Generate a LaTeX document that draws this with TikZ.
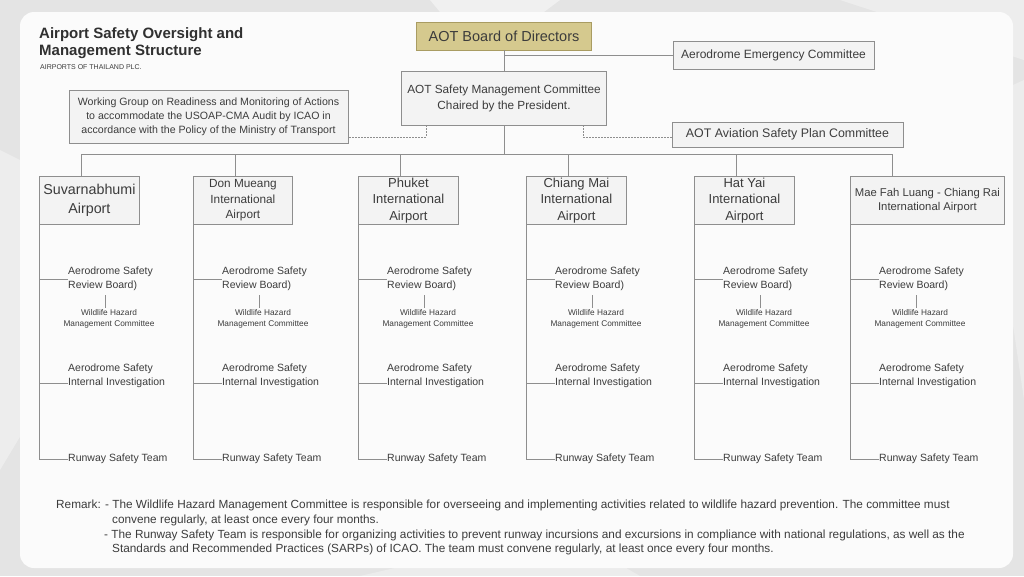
\documentclass[tikz,border=0pt]{standalone}
\usepackage{fontspec}
\setmainfont{Liberation Sans}
\newfontfamily\remfont{Liberation Sans}
\usetikzlibrary{positioning,calc}
\definecolor{cInk}{HTML}{3C3C3C}
\definecolor{cGrey}{HTML}{8E8E8E}
\definecolor{cBox}{HTML}{F3F3F3}
\definecolor{cGold}{HTML}{D5C98E}
\definecolor{cGoldD}{HTML}{A99C62}
\definecolor{cBack}{HTML}{E4E4E4}
\definecolor{cCard}{HTML}{FBFBFB}
\newcommand{\fsz}[2]{\fontsize{#1}{#2}\selectfont}
\tikzset{
  blk/.style={draw=cGrey, fill=cBox, align=center, inner sep=1pt,
              text=cInk, line width=0.8pt},
  blkG/.style={blk, draw=cGoldD, fill=cGold},
  ln/.style={cGrey, line width=0.8pt},
  dsh/.style={ln, dash pattern=on 2pt off 1pt},
  item/.style={align=left, anchor=west, inner sep=0pt, text=cInk,
               font=\fsz{10.5}{14}},
  tag/.style={align=center, inner sep=0pt, text=cInk, font=\fsz{8.3}{11}},
  rem/.style={anchor=west, inner sep=0pt, text=cInk, font=\remfont\fsz{11.8}{14}}
}
\begin{document}
\begin{tikzpicture}[x=1pt, y=-1pt]
\useasboundingbox (0,0) rectangle (1024,576);
% backdrop and card
\fill[cBack] (0,0) rectangle (1024,576);
\fill[white, opacity=0.45] (430,0) -- (560,0) -- (480,60) -- cycle;
\fill[white, opacity=0.35] (840,0) -- (1024,0) -- (1024,60) -- cycle;
\fill[white, opacity=0.35] (0,150) -- (40,170) -- (30,420) -- (0,470) -- cycle;
\fill[white, opacity=0.30] (360,576) -- (560,530) -- (640,576) -- cycle;
\fill[white, opacity=0.30] (980,100) -- (1024,80) -- (1024,400) -- cycle;
\fill[cCard, rounded corners=14pt] (20,12) rectangle (1013,568);
% title
\node[anchor=north west, inner sep=0pt, align=left, text=cInk!80!black,
      font=\bfseries\fsz{15}{17}] (title) at (39,27)
  {Airport Safety Oversight and\\Management Structure};
\node[anchor=north west, inner sep=0pt, text=cInk, font=\fsz{7}{8}]
  (sub) at (40,64) {AIRPORTS OF THAILAND PLC.};
% top of the chart
\node[blkG, minimum width=175pt, minimum height=28pt, font=\fsz{14.5}{17}]
  (board) at (504,36) {AOT Board of Directors};
\node[blk, minimum width=201pt, minimum height=28pt, font=\fsz{12}{14}]
  (aec) at (773.5,55) {Aerodrome Emergency Committee};
\node[blk, minimum width=205pt, minimum height=54pt, font=\fsz{11.8}{16}]
  (smc) at (504,98) {AOT Safety Management Committee\\Chaired by the President.};
\node[blk, minimum width=279pt, minimum height=53pt, font=\fsz{10.6}{14}]
  (wg) at (208.5,116.5) {Working Group on Readiness and Monitoring of Actions\\
  to accommodate the USOAP-CMA Audit by ICAO in\\
  accordance with the Policy of the Ministry of Transport};
\node[blk, minimum width=231pt, minimum height=25pt, font=\fsz{12.4}{14}]
  (asp) at (787.5,134.5) {AOT Aviation Safety Plan Committee};
\draw[ln] (board.south) -- (smc.north);
\draw[ln] (board.south |- aec.west) -- (aec.west);
\draw[dsh] ([xshift=-78pt]smc.south) |- ([yshift=-20.5pt]wg.east);
\draw[dsh] ([xshift=79pt]smc.south) |- ([yshift=-2.5pt]asp.west);
\coordinate (bus) at (504,154);
\draw[ln] (smc.south) -- (bus);
% airports
\foreach \i/\lx/\w/\fs/\ls/\txt in {
  1/39/100/14.3/19/{Suvarnabhumi\\Airport},
  2/193/99/11.8/15.5/{Don Mueang\\International\\Airport},
  3/358/100/13/16.5/{Phuket\\International\\Airport},
  4/526/100/13/16.5/{Chiang Mai\\International\\Airport},
  5/694/100/13/16.5/{Hat Yai\\International\\Airport},
  6/850/154/11.3/14.5/{Mae Fah Luang - Chiang Rai\\International Airport}}{
  \node[blk, anchor=north west, minimum width=\w pt, minimum height=48pt,
        font=\fsz{\fs}{\ls}] (ap\i) at (\lx,176) {\txt};
  \coordinate (d\i) at ([xshift=42pt]ap\i.north west);
  \draw[ln] (d\i) -- (d\i |- bus);
  \node[item] (rb\i) at (\lx+29,279) {Aerodrome Safety\\Review Board)};
  \node[tag] (wh\i) at (\lx+70,318.5) {Wildlife Hazard\\Management Committee};
  \node[item] (ii\i) at (\lx+29,376) {Aerodrome Safety\\Internal Investigation};
  \node[item] (rst\i) at (\lx+29,459) {Runway Safety Team};
  \draw[ln] (ap\i.south west) |- (rst\i.west);
  \draw[ln] (ap\i.south west) |- (rb\i.west);
  \draw[ln] (ap\i.south west) |- ([yshift=-7pt]ii\i.west);
  \coordinate (wt\i) at ([xshift=-4pt, yshift=1pt]wh\i.north);
  \draw[ln] (wt\i) -- ([yshift=-4pt]wt\i |- rb\i.south);
}
\draw[ln] (d1 |- bus) -- (d6 |- bus);
% remarks
\node[rem] (r1) at (56,505) {Remark: - The Wildlife Hazard Management Committee is responsible for overseeing and implementing activities related to wildlife hazard prevention. The committee must};
\node[rem] (r2) at (112,520) {convene regularly, at least once every four months.};
\node[rem] (r3) at (104,535) {- The Runway Safety Team is responsible for organizing activities to prevent runway incursions and excursions in compliance with national regulations, as well as the};
\node[rem] (r4) at (112,549) {Standards and Recommended Practices (SARPs) of ICAO. The team must convene regularly, at least once every four months.};
\end{tikzpicture}
\end{document}
